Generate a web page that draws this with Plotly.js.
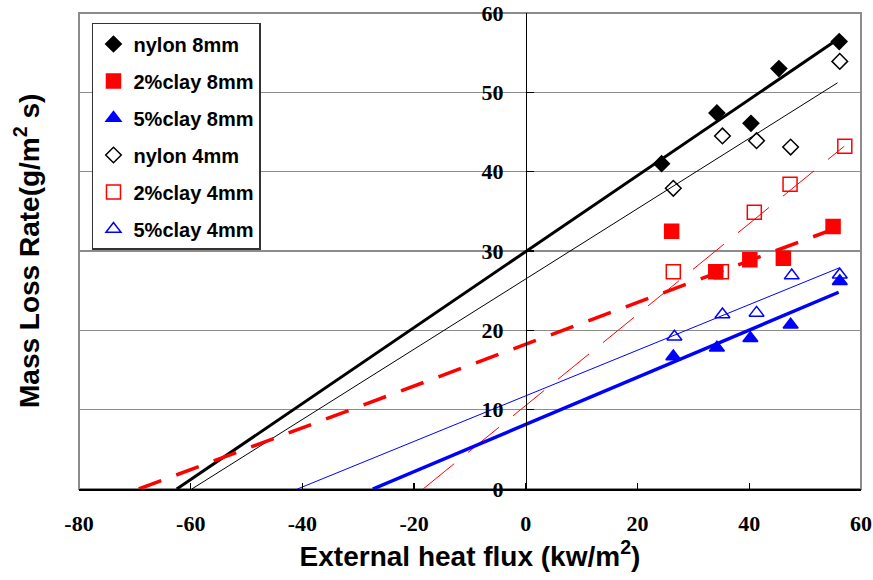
<!DOCTYPE html>
<html><head><meta charset="utf-8">
<script src="https://cdn.plot.ly/plotly-3.0.1.min.js"></script>
<style>html,body{margin:0;padding:0;background:#fff}#chart{width:873px;height:580px}</style>
</head><body><div id="chart"></div>
<script>
// Measured points
const nylon8X = [24.3, 34.2, 40.3, 45.3, 56.1];
const nylon8Y = [41.0, 47.4, 46.1, 53.0, 56.4];
const clay2_8X = [26.1, 34.0, 40.1, 46.1, 55.0];
const clay2_8Y = [32.5, 27.4, 28.9, 29.1, 33.1];
const clay5_8X = [26.4, 34.2, 40.2, 47.4, 56.2];
const clay5_8Y = [16.7, 17.8, 19.0, 20.7, 26.2];
const nylon4X = [26.4, 35.2, 41.3, 47.4, 56.2];
const nylon4Y = [37.9, 44.5, 43.9, 43.1, 53.9];
const clay2_4X = [26.4, 35.0, 40.9, 47.3, 57.1];
const clay2_4Y = [27.4, 27.4, 34.9, 38.4, 43.2];
const clay5_4X = [26.6, 35.2, 41.3, 47.6, 56.2];
const clay5_4Y = [19.2, 22.0, 22.2, 26.9, 27.0];

// Fitted (extrapolated) lines: end points
const fitNylon8X = [-62.5, 56.3], fitNylon8Y = [0, 56.9];
const fitNylon4X = [-59.8, 55.8], fitNylon4Y = [0, 51.2];
const fitClay2_8X = [-69.3, 56.0], fitClay2_8Y = [0, 33.0];
const fitClay2_4X = [-18.4, 57.0], fitClay2_4Y = [0, 43.2];
const fitClay5_8X = [-27.4, 56.0], fitClay5_8Y = [0, 24.8];
const fitClay5_4X = [-40.9, 56.2], fitClay5_4Y = [0, 27.9];

const seriesNames = ['nylon 8mm','2%clay 8mm','5%clay 8mm','nylon 4mm','2%clay 4mm','5%clay 4mm'];
const xTicks = [-80,-60,-40,-20,0,20,40,60];
const yTicks = [0,10,20,30,40,50,60];

const RED = '#ff0000', BLUE = '#0000ff', BLK = '#000000';

function pts(x, y, name, symbol, color, size, grp) {
  return {x: x, y: y, name: name, type: 'scatter', mode: 'markers', legendgroup: grp,
    marker: {symbol: symbol, color: color, size: size, line: {color: color, width: 1.5}}};
}
function fit(x, y, color, width, dash) {
  return {x: x, y: y, type: 'scatter', mode: 'lines', showlegend: false, hoverinfo: 'skip',
    line: {color: color, width: width, dash: dash}};
}

const data = [
  fit(fitNylon8X, fitNylon8Y, BLK, 3, 'solid'),
  fit(fitNylon4X, fitNylon4Y, BLK, 1, 'solid'),
  fit(fitClay2_8X, fitClay2_8Y, RED, 3.5, '24px,16px'),
  fit(fitClay2_4X, fitClay2_4Y, RED, 1, '40px,18px'),
  fit(fitClay5_8X, fitClay5_8Y, BLUE, 3.5, 'solid'),
  fit(fitClay5_4X, fitClay5_4Y, BLUE, 1, 'solid'),
  pts(nylon8X, nylon8Y, seriesNames[0], 'diamond', BLK, 12, 'g1'),
  pts(clay2_8X, clay2_8Y, seriesNames[1], 'square', RED, 14, 'g2'),
  pts(clay5_8X, clay5_8Y, seriesNames[2], 'triangle-up', BLUE, 13, 'g3'),
  pts(nylon4X, nylon4Y, seriesNames[3], 'diamond-open', BLK, 12, 'g4'),
  pts(clay2_4X, clay2_4Y, seriesNames[4], 'square-open', RED, 14, 'g5'),
  pts(clay5_4X, clay5_4Y, seriesNames[5], 'triangle-up-open', BLUE, 13, 'g6')
];

const tickFont = {family: 'Liberation Serif, DejaVu Serif, serif', size: 22, color: '#000', weight: 'bold'};
const titleFont = {family: 'Liberation Sans, Arial, sans-serif', size: 28, color: '#000', weight: 'bold'};

const layout = {
  width: 873, height: 580,
  margin: {l: 79, r: 12, t: 13, b: 91},
  paper_bgcolor: '#fff', plot_bgcolor: '#fff',
  showlegend: true,
  legend: {x: 0.0166, y: 0.979, xanchor: 'left', yanchor: 'top',
    bgcolor: '#fff', bordercolor: '#333', borderwidth: 1.5,
    traceorder: 'grouped', tracegroupgap: 8,
    font: {family: 'Liberation Sans, Arial, sans-serif', size: 20, color: '#000', weight: 'bold'}},
  xaxis: {range: [-80, 60], tickvals: xTicks, ticktext: xTicks.map(String),
    showgrid: false, zeroline: false, showline: true, linecolor: '#000', linewidth: 1.5,
    ticks: 'inside', ticklen: 6, tickwidth: 1.5, tickcolor: '#000',
    tickfont: tickFont, ticklabelstandoff: 14,
    title: {text: 'External heat flux (kw/m<sup>2</sup>)', font: titleFont, standoff: 8}},
  yaxis: {range: [0, 60], tickvals: yTicks, ticktext: yTicks.map(String),
    anchor: 'free', position: 80/140, side: 'left',
    showgrid: true, gridcolor: '#8c8c8c', gridwidth: 1.5, zeroline: false,
    showline: true, linecolor: '#000', linewidth: 1.5,
    ticks: 'inside', ticklen: 7, tickwidth: 1.5, tickcolor: '#000',
    tickfont: tickFont, ticklabelstandoff: 18},
  shapes: [{type: 'rect', xref: 'paper', yref: 'paper', x0: 0, x1: 1, y0: 0, y1: 1,
    line: {color: '#8c8c8c', width: 2}, layer: 'below'}],
  annotations: [{text: 'Mass Loss Rate(g/m<sup>2</sup> s)', xref: 'paper', yref: 'paper',
    x: -0.0665, y: 0.5, textangle: -90, showarrow: false, xanchor: 'center', yanchor: 'middle',
    font: titleFont}]
};

Plotly.newPlot('chart', data, layout, {displayModeBar: false, staticPlot: true});
</script></body></html>
